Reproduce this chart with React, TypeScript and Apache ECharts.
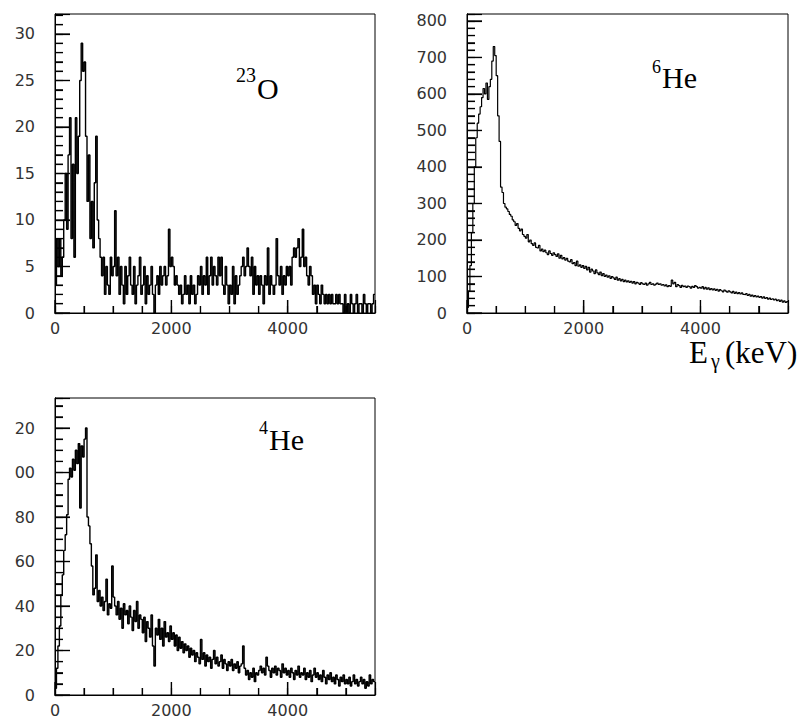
import React, { useEffect, useRef } from 'react';
import * as echarts from 'echarts';

// Histogram bin width (keV) and energy range
const BIN_WIDTH = 25;
const X_MAX = 5500;
const X_LABEL_STEP = 2000;
const X_MINOR_STEP = 500;

// x-axis tick marks (keV)
const xMajorTicks = [0, 2000, 4000];
const xMinorTicks = [500, 1000, 1500, 2500, 3000, 3500, 4500, 5000];

// 23O gamma spectrum, counts per 25 keV bin (0 .. 5500 keV)
const o23Counts = [
  3, 8, 5, 8, 4, 6, 10, 15, 9, 17,
  21, 8, 16, 6, 21, 15, 19, 25, 29, 26,
  27, 19, 12, 17, 8, 12, 7, 14, 19, 10,
  8, 6, 4, 6, 2, 5, 3, 2, 6, 4,
  5, 11, 4, 6, 2, 5, 3, 1, 5, 2,
  4, 6, 3, 2, 5, 1, 3, 4, 6, 2,
  3, 5, 1, 4, 2, 3, 5, 2, 0, 3,
  4, 2, 5, 3, 4, 5, 3, 4, 9, 5,
  6, 5, 3, 4, 3, 2, 3, 1, 2, 4,
  2, 3, 1, 4, 2, 3, 1, 2, 4, 3,
  5, 2, 4, 3, 6, 2, 4, 6, 3, 5,
  4, 3, 6, 4, 6, 3, 2, 5, 3, 1,
  3, 2, 5, 1, 4, 2, 3, 4, 5, 6,
  4, 5, 7, 5, 4, 6, 2, 5, 3, 4,
  2, 4, 3, 1, 4, 3, 7, 2, 4, 3,
  2, 3, 8, 4, 3, 5, 2, 4, 3, 5,
  4, 5, 3, 6, 7, 6, 7, 8, 5, 6,
  9, 5, 6, 4, 3, 5, 4, 2, 3, 1,
  3, 2, 1, 3, 2, 1, 2, 1, 2, 1,
  2, 1, 1, 2, 1, 2, 1, 1, 0, 2,
  0, 1, 0, 2, 1, 0, 1, 2, 0, 1,
  1, 0, 2, 1, 0, 1, 1, 0, 1, 2,
];

// 6He gamma spectrum, counts per 25 keV bin
const he6Counts = [
  15, 60, 130, 220, 300, 400, 480, 520, 545, 565,
  590, 615, 600, 630, 585, 620, 640, 690, 730, 705,
  650, 540, 470, 345, 330, 300, 290, 285, 278, 270,
  265, 255, 250, 240, 245, 232, 225, 230, 215, 210,
  205, 215, 195, 200, 190, 185, 192, 180, 178, 185,
  170, 175, 168, 172, 165, 160, 170, 163, 158, 165,
  160, 155, 162, 150, 158, 148, 152, 145, 150, 142,
  140, 146, 135, 138, 130, 142, 128, 132, 125, 130,
  122, 128, 118, 125, 112, 120, 115, 108, 118, 110,
  105, 112, 102, 108, 100, 104, 98, 102, 95, 100,
  96, 92, 98, 90, 94, 88, 92, 86, 90, 85,
  88, 84, 87, 82, 86, 80, 84, 82, 78, 83,
  80, 78, 82, 76, 80, 84, 78, 80, 76, 79,
  82, 78, 80, 76, 78, 74, 77, 72, 75, 73,
  90, 80, 84, 72, 78, 75, 70, 76, 72, 74,
  70, 74, 72, 68, 73, 70, 75, 72, 68, 70,
  68, 72, 66, 70, 65, 69, 64, 67, 63, 66,
  62, 65, 60, 64, 61, 58, 63, 60, 57, 61,
  58, 55, 59, 54, 57, 53, 56, 52, 55, 51,
  50, 53, 48, 51, 46, 49, 45, 48, 44, 46,
  43, 45, 41, 44, 40, 42, 38, 41, 37, 39,
  36, 38, 34, 36, 32, 35, 30, 33, 29, 31,
];

// 4He gamma spectrum, counts per 25 keV bin
const he4Counts = [
  3, 12, 22, 31, 45, 54, 65, 72, 81, 97,
  102, 98, 106, 101, 110, 104, 113, 84, 112, 107,
  115, 120, 80, 76, 68, 58, 45, 48, 63, 42,
  47, 40, 44, 38, 42, 52, 36, 41, 39, 58,
  44, 40, 36, 42, 34, 39, 30, 41, 36, 38,
  32, 40, 35, 29, 38, 33, 42, 30, 36, 34,
  28, 35, 24, 33, 30, 26, 36, 22, 13, 30,
  27, 34, 25, 30, 22, 33, 26, 28, 24, 31,
  25, 28, 22, 27, 20, 26, 21, 24, 19, 23,
  20, 22, 17, 21, 18, 20, 15, 19, 17, 14,
  25, 16, 19, 13, 18, 15, 17, 12, 16, 20,
  14, 17, 13, 15, 18, 12, 16, 14, 11, 15,
  13, 16, 11, 14, 12, 15, 10, 13, 14, 22,
  12, 9, 11, 7, 10, 8, 12, 6, 10, 9,
  11, 13, 10, 12, 9, 17, 13, 11, 8, 12,
  10, 13, 9, 12, 11, 8, 14, 10, 12, 9,
  11, 8, 12, 10, 7, 11, 9, 13, 8, 10,
  9, 12, 7, 10, 8, 11, 6, 9, 12, 8,
  10, 7, 9, 6, 11, 8, 5, 9, 7, 10,
  6, 8, 5, 9, 7, 4, 8, 6, 9, 5,
  7, 5, 8, 4, 6, 9, 5, 7, 4, 6,
  8, 5, 7, 3, 6, 4, 9, 5, 7, 6,
];

// Panel titles (superscript mass number + element)
const panelMass = ['23', '6', '4'];
const panelElement = ['O', 'He', 'He'];
const axisTitleMain = 'E';
const axisTitleSub = 'γ';
const axisTitleUnit = '(keV)';

type Panel = {
  grid: { left: number; top: number; width: number; height: number };
  yMax: number;
  yMajor: number;
  yMinor: number;
  counts: number[];
  lineWidth: number;
  yFormatter: (v: number) => string;
};

const panels: Panel[] = [
  {
    grid: { left: 55, top: 14, width: 320, height: 299 },
    yMax: 32.15, yMajor: 5, yMinor: 1, counts: o23Counts, lineWidth: 1.4,
    yFormatter: (v) => String(v),
  },
  {
    grid: { left: 467, top: 14, width: 321, height: 299 },
    yMax: 819, yMajor: 100, yMinor: 20, counts: he6Counts, lineWidth: 1.2,
    yFormatter: (v) => String(v),
  },
  {
    grid: { left: 55, top: 398, width: 320, height: 297 },
    yMax: 133.5, yMajor: 20, yMinor: 5, counts: he4Counts, lineWidth: 1.4,
    // the hundreds digit is cut off in the original figure
    yFormatter: (v) => (v >= 100 ? String(v).slice(-2) : String(v)),
  },
];

function toSteps(counts: number[]) {
  const pts = counts.map((c, i) => [i * BIN_WIDTH, c]);
  pts.push([counts.length * BIN_WIDTH, counts[counts.length - 1]]);
  return pts;
}

function tickValues(step: number, max: number) {
  const out: number[] = [];
  for (let k = 0; k * step <= max + 1e-9; k++) out.push(Math.round(k * step * 1000) / 1000);
  return out;
}

const LABEL_FONT = 'DejaVu Sans';
const TITLE_FONT = 'Liberation Serif';
const TICK = { xMajor: 13, xMinor: 7, yMajor: 15, yMinor: 8, width: 1.2, color: '#000' };

export default function App() {
  const ref = useRef<HTMLDivElement>(null);

  useEffect(() => {
    if (!ref.current) return;
    const chart = echarts.init(ref.current, undefined, { renderer: 'svg' });

    const grids: any[] = [];
    const xAxes: any[] = [];
    const yAxes: any[] = [];
    const series: any[] = [];

    panels.forEach((p, g) => {
      grids.push({
        ...p.grid,
        show: true,
        borderColor: '#000',
        containLabel: false,
        outerBoundsMode: 'none',
      });
      // axis 2g: labels + major ticks
      xAxes.push({
        type: 'value', gridIndex: g, position: 'bottom', min: 0, max: X_MAX, interval: X_LABEL_STEP,
        axisLine: { show: true, lineStyle: { color: '#000' } },
        axisTick: { show: true, inside: true, length: TICK.xMajor, lineStyle: { color: TICK.color, width: TICK.width } },
        axisLabel: {
          show: true, margin: 7, fontFamily: LABEL_FONT, fontSize: 16, color: '#333',
          formatter: (v: number) => (v % X_LABEL_STEP === 0 ? String(v) : ''),
        },
        splitLine: { show: false },
      });
      yAxes.push({
        type: 'value', gridIndex: g, position: 'left', min: 0, max: p.yMax, interval: p.yMajor,
        axisLine: { show: true, lineStyle: { color: '#000' } },
        axisTick: { show: true, inside: true, length: TICK.yMajor, lineStyle: { color: TICK.color, width: TICK.width } },
        axisLabel: {
          show: true, margin: 20, fontFamily: LABEL_FONT, fontSize: 16, color: '#333',
          formatter: (v: number) => (Math.abs(v % p.yMajor) < 1e-6 ? p.yFormatter(v) : ''),
        },
        splitLine: { show: false },
      });
      // axis 2g+1: minor ticks only
      xAxes.push({
        type: 'value', gridIndex: g, position: 'bottom', min: 0, max: X_MAX, interval: X_MINOR_STEP,
        axisLine: { show: true, lineStyle: { color: '#000' } },
        axisTick: { show: true, inside: true, length: TICK.xMinor, lineStyle: { color: TICK.color, width: TICK.width } },
        axisLabel: { show: false },
        splitLine: { show: false },
      });
      yAxes.push({
        type: 'value', gridIndex: g, position: 'left', min: 0, max: p.yMax, interval: p.yMinor,
        axisLine: { show: true, lineStyle: { color: '#000' } },
        axisTick: { show: true, inside: true, length: TICK.yMinor, lineStyle: { color: TICK.color, width: TICK.width } },
        axisLabel: { show: false },
        splitLine: { show: false },
      });

      const xi = 2 * g;
      const yi = 2 * g;

      // histogram
      series.push({
        type: 'line',
        xAxisIndex: xi,
        yAxisIndex: yi,
        data: toSteps(p.counts),
        step: 'end',
        showSymbol: false,
        symbol: 'none',
        lineStyle: { color: '#000', width: p.lineWidth },
      });

      // x-axis tick marks (drawn inward from the bottom axis)
      const xTickData = [
        ...xMajorTicks.map((v) => [v, 0, 1]),
        ...xMinorTicks.map((v) => [v, 0, 0]),
      ];
      series.push({
        type: 'custom',
        xAxisIndex: xi,
        yAxisIndex: yi,
        clip: false,
        z: 6,
        data: xTickData,
        renderItem: (_params: any, api: any) => {
          const pt = api.coord([api.value(0), api.value(1)]);
          const len = api.value(2) ? TICK.xMajor : TICK.xMinor;
          return {
            type: 'line',
            shape: { x1: pt[0], y1: pt[1], x2: pt[0], y2: pt[1] - len },
            style: { stroke: TICK.color, lineWidth: TICK.width },
          };
        },
      });

      // y-axis tick marks (drawn inward from the left axis)
      const majors = tickValues(p.yMajor, p.yMax);
      const minors = tickValues(p.yMinor, p.yMax).filter(
        (v) => !majors.some((m) => Math.abs(m - v) < 1e-6),
      );
      const yTickData = [
        ...majors.map((v) => [0, v, 1]),
        ...minors.map((v) => [0, v, 0]),
      ];
      series.push({
        type: 'custom',
        xAxisIndex: xi,
        yAxisIndex: yi,
        clip: false,
        z: 6,
        data: yTickData,
        renderItem: (_params: any, api: any) => {
          const pt = api.coord([api.value(0), api.value(1)]);
          const len = api.value(2) ? TICK.yMajor : TICK.yMinor;
          return {
            type: 'line',
            shape: { x1: pt[0], y1: pt[1], x2: pt[0] + len, y2: pt[1] },
            style: { stroke: TICK.color, lineWidth: TICK.width },
          };
        },
      });
    });

    const txt = (text: string, x: number, y: number, size: number) => ({
      type: 'text', x, y, silent: true,
      style: {
        text, fill: '#000', fontFamily: TITLE_FONT, fontSize: size,
        align: 'left', verticalAlign: 'middle',
      },
    });

    chart.setOption({
      animation: false,
      backgroundColor: '#fff',
      tooltip: { show: false },
      grid: grids,
      xAxis: xAxes,
      yAxis: yAxes,
      series,
      graphic: [
        txt(panelMass[0], 236, 74.5, 20),
        txt(panelElement[0], 257, 88.5, 30),
        txt(panelMass[1], 652, 67, 18),
        txt(panelElement[1], 662, 77.5, 30),
        txt(panelMass[2], 259, 428, 18),
        txt(panelElement[2], 269, 439, 30),
        txt(axisTitleMain, 689, 352, 31),
        txt(axisTitleSub, 711, 361, 20),
        txt(axisTitleUnit, 725, 352, 31),
      ],
    });

    return () => chart.dispose();
  }, []);

  return (
    <div
      ref={ref}
      style={{ position: 'absolute', left: 0, top: 0, width: 800, height: 717 }}
    />
  );
}
